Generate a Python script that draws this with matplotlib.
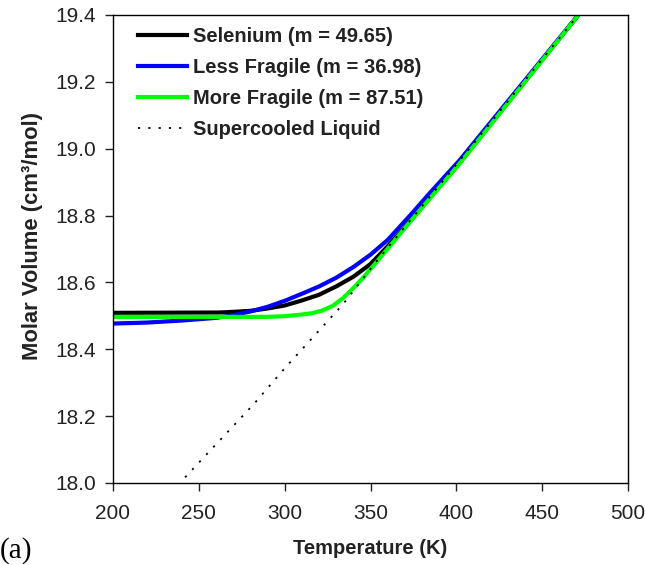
import matplotlib
matplotlib.use("Agg")
import matplotlib.pyplot as plt

# Data
T_sel = [200, 262, 270, 280, 290, 300, 310, 320, 330, 340, 350, 360, 370, 380, 400, 475]
V_sel = [18.509, 18.510, 18.512, 18.515, 18.522, 18.531, 18.546, 18.563, 18.588, 18.617,
         18.655, 18.708, 18.765, 18.826, 18.946, 19.425]

T_less = [200, 220, 240, 260, 270, 280, 290, 300, 310, 320, 330, 340, 350, 360, 373, 385, 402, 475]
V_less = [18.477, 18.480, 18.486, 18.494, 18.502, 18.513, 18.527, 18.545, 18.566, 18.588,
          18.614, 18.646, 18.683, 18.727, 18.800, 18.870, 18.966, 19.425]

T_more = [200, 290, 300, 310, 316, 322, 328, 334, 340, 346, 354, 373, 402, 475]
V_more = [18.497, 18.497, 18.499, 18.504, 18.508, 18.516, 18.530, 18.553, 18.583, 18.616,
          18.664, 18.781, 18.956, 19.425]

T_liq = [242, 282, 300, 334, 353, 399, 475]
V_liq = [18.017, 18.236, 18.343, 18.535, 18.660, 18.946, 19.425]

labels = ["Selenium (m = 49.65)", "Less Fragile (m = 36.98)",
          "More Fragile (m = 87.51)", "Supercooled Liquid"]

plt.rcParams['font.family'] = ['Liberation Sans', 'DejaVu Sans']

fig = plt.figure(figsize=(6.45, 5.65), dpi=100)
ax = fig.add_axes([113/645, 1 - 483/565, (628-113)/645, (483-15)/565])

ax.plot(T_sel, V_sel, color='black', lw=3, label=labels[0])
ax.plot(T_less, V_less, color='#0000ff', lw=3, label=labels[1])
ax.plot(T_more, V_more, color='#00ff00', lw=3, label=labels[2])
ax.plot(T_liq, V_liq, color='black', lw=1.3, ls=(0, (1.2, 4.5)), label=labels[3])

ax.set_xlim(200, 500)
ax.set_ylim(18.0, 19.4)
ax.set_xticks([200, 250, 300, 350, 400, 450, 500])
yt = [18.0, 18.2, 18.4, 18.6, 18.8, 19.0, 19.2, 19.4]
ax.set_yticks(yt)
ax.set_yticklabels([f"{v:.1f}" for v in yt])
ax.tick_params(direction='out', length=6, width=1, labelsize=15, colors='#222222')
ax.tick_params(axis='x', pad=9)
ax.tick_params(axis='y', pad=6)
for s in ax.spines.values():
    s.set_linewidth(1.0)

ax.set_xlabel("Temperature (K)", fontsize=14.5, fontweight='bold', color='#222222', labelpad=12)
ax.set_ylabel("Molar Volume (cm³/mol)", fontsize=15.8, fontweight='bold', color='#222222',
              labelpad=9, y=0.528)

leg = ax.legend(loc='upper left', bbox_to_anchor=(0.0485, 0.975), frameon=False, fontsize=14.5,
                handlelength=2.45, handletextpad=0.3, labelspacing=0.6,
                borderaxespad=0, borderpad=0)
for t in leg.get_texts():
    t.set_fontweight('bold')
    t.set_color('#222222')

fig.text(0.0, 1/565, "(a)", fontsize=21, family=['Liberation Serif', 'DejaVu Serif'],
         va='bottom', ha='left')

fig.savefig("out.png", dpi=100)
